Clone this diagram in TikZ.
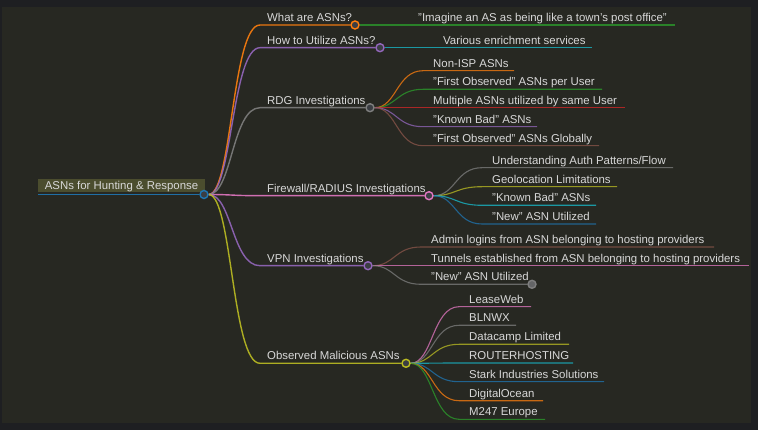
\documentclass[tikz,border=0pt]{standalone}
\usepackage{fontspec}
\setmainfont{Liberation Sans}
\usepackage{tikz}
\usetikzlibrary{calc,positioning}
\definecolor{bgout}{HTML}{1E1F22}
\definecolor{bgin}{HTML}{272822}
\definecolor{rootfill}{HTML}{4B4D2E}
\definecolor{txt}{HTML}{D8D8D8}
\definecolor{dotfill}{HTML}{3B3E43}
\definecolor{cblue}{HTML}{1F77B4}
\definecolor{corange}{HTML}{FF7F0E}
\definecolor{cgreen}{HTML}{2CA02C}
\definecolor{cred}{HTML}{D62728}
\definecolor{cpurple}{HTML}{9467BD}
\definecolor{cbrown}{HTML}{8C564B}
\definecolor{cpink}{HTML}{E377C2}
\definecolor{cgray}{HTML}{7F7F7F}
\definecolor{colive}{HTML}{BCBD22}
\definecolor{ccyan}{HTML}{17BECF}
\pgfdeclarelayer{bg}
\pgfdeclarelayer{links}
\pgfsetlayers{bg,links,main}
\tikzstyle{dot}=[circle, draw, line width=1.4pt, fill=dotfill, inner sep=0pt, minimum size=8pt]
\tikzstyle{lbl}=[anchor=base west, inner sep=0pt, text=txt, font=\fontsize{11.4}{13}\selectfont]
\tikzstyle{rootbox}=[rectangle, fill=rootfill, text=txt, font=\fontsize{11.4}{13}\selectfont, inner sep=0pt, minimum width=167pt, minimum height=13pt, text height=9pt, text depth=1pt]
\tikzstyle{link}=[to path={let \p1=(\tikztostart), \p2=(\tikztotarget) in .. controls ({(\x1+\x2)/2},\y1) and ({(\x1+\x2)/2},\y2) .. (\tikztotarget)}]
\tikzstyle{branch}=[line width=1.4pt, draw opacity=0.9]
\tikzstyle{leaf}=[line width=1.1pt, draw opacity=0.75]

\begin{document}
\begin{tikzpicture}[x=1pt,y=-1pt]
	\useasboundingbox (0,0) rectangle (758,430);
	% root
	\node[rootbox] (root) at (121.5,185.5) {ASNs for Hunting \& Response};
	\node[dot, draw=cblue] (rootdot) at (204,194.5) {};
	\coordinate (rootE) at (38,194.5);
	% first level
	\node[dot, draw=corange] (what) at (355,25) {};
	\coordinate (whatS) at (260,25);
	\node[lbl] (whatname) at (267,21.5) {What are ASNs?};
	\node[dot, draw=cpurple] (how) at (380,47.7) {};
	\coordinate (howS) at (260,47.7);
	\node[lbl] (howname) at (267,44.2) {How to Utilize ASNs?};
	\node[dot, draw=cgray] (rdg) at (370,107.7) {};
	\coordinate (rdgS) at (260,107.7);
	\node[lbl] (rdgname) at (267,104.2) {RDG Investigations};
	\node[dot, draw=cpink] (fw) at (429,195.7) {};
	\coordinate (fwS) at (260,195.7);
	\node[lbl] (fwname) at (267,192.2) {Firewall/RADIUS Investigations};
	\node[dot, draw=cpurple] (vpn) at (368,265.7) {};
	\coordinate (vpnS) at (260,265.7);
	\node[lbl] (vpnname) at (267,262.2) {VPN Investigations};
	\node[dot, draw=colive] (mal) at (406,363.3) {};
	\coordinate (malS) at (260,363.3);
	\node[lbl] (malname) at (267,359.8) {Observed Malicious ASNs};
	% what / how
	\coordinate (imagineE) at (675,25);
	\node[lbl] (imagine) at (418,21.5) {"Imagine an AS as being like a town's post office"};
	\coordinate (variousE) at (592,47.7);
	\node[lbl] (various) at (443,44.2) {Various enrichment services};
	% rdg
	\coordinate (r1S) at (423,70.7);   \coordinate (r1E) at (514,70.7);
	\coordinate (r2S) at (423,89.3);   \coordinate (r2E) at (602,89.3);
	\coordinate (r3S) at (423,107.7);  \coordinate (r3E) at (625,107.7);
	\coordinate (r4S) at (423,126.7);  \coordinate (r4E) at (537,126.7);
	\coordinate (r5S) at (423,145.7);  \coordinate (r5E) at (599,145.7);
	\node[lbl] (r1) at (433,67.2) {Non-ISP ASNs};
	\node[lbl] (r2) at (433,85.8) {"First Observed" ASNs per User};
	\node[lbl] (r3) at (433,104.2) {Multiple ASNs utilized by same User};
	\node[lbl] (r4) at (433,123.2) {"Known Bad" ASNs};
	\node[lbl] (r5) at (433,142.2) {"First Observed" ASNs Globally};
	% firewall
	\coordinate (f1S) at (482,167.7);  \coordinate (f1E) at (673,167.7);
	\coordinate (f2S) at (482,186.7);  \coordinate (f2E) at (617,186.7);
	\coordinate (f3S) at (482,205.3);  \coordinate (f3E) at (596,205.3);
	\coordinate (f4S) at (482,224);    \coordinate (f4E) at (596,224);
	\node[lbl] (f1) at (492,164.2) {Understanding Auth Patterns/Flow};
	\node[lbl] (f2) at (492,183.2) {Geolocation Limitations};
	\node[lbl] (f3) at (492,201.8) {"Known Bad" ASNs};
	\node[lbl] (f4) at (492,220.5) {"New" ASN Utilized};
	% vpn
	\coordinate (v1S) at (421,247);    \coordinate (v1E) at (714,247);
	\coordinate (v2S) at (421,265.7);  \coordinate (v2E) at (749,265.7);
	\coordinate (v3S) at (421,284.3);
	\node[dot, draw=cgray, fill=cgray!60!dotfill] (v3dot) at (532,284.3) {};
	\node[lbl] (v1) at (431,243.5) {Admin logins from ASN belonging to hosting providers};
	\node[lbl] (v2) at (431,262.2) {Tunnels established from ASN belonging to hosting providers};
	\node[lbl] (v3) at (431,280.8) {"New" ASN Utilized};
	% observed
	\coordinate (m1S) at (459,306.7);  \coordinate (m1E) at (531,306.7);
	\coordinate (m2S) at (459,325.3);  \coordinate (m2E) at (516,325.3);
	\coordinate (m3S) at (459,344.3);  \coordinate (m3E) at (569,344.3);
	\coordinate (m4S) at (459,363);    \coordinate (m4E) at (573,363);
	\coordinate (m5S) at (459,381.7);  \coordinate (m5E) at (604,381.7);
	\coordinate (m6S) at (459,400.7);  \coordinate (m6E) at (543,400.7);
	\coordinate (m7S) at (459,419.3);  \coordinate (m7E) at (545,419.3);
	\node[lbl] (m1) at (469,303.2) {LeaseWeb};
	\node[lbl] (m2) at (469,321.8) {BLNWX};
	\node[lbl] (m3) at (469,340.8) {Datacamp Limited};
	\node[lbl] (m4) at (469,359.5) {ROUTERHOSTING};
	\node[lbl] (m5) at (469,378.2) {Stark Industries Solutions};
	\node[lbl] (m6) at (469,397.2) {DigitalOcean};
	\node[lbl] (m7) at (469,415.8) {M247 Europe};
	\begin{pgfonlayer}{bg}
	\fill[bgout] (0,0) rectangle (758,430);
	\fill[bgin] (2,7) rectangle (751,423);
	\end{pgfonlayer}
	\begin{pgfonlayer}{links}
	\draw[branch, cblue] (rootE) -- (rootdot);
	\draw[branch, corange] (rootdot) to[link] (whatS) -- (what);
	\draw[branch, cpurple] (rootdot) to[link] (howS) -- (how);
	\draw[branch, cgray] (rootdot) to[link] (rdgS) -- (rdg);
	\draw[branch, cpink] (rootdot) to[link] (fwS) -- (fw);
	\draw[branch, cpurple] (rootdot) to[link] (vpnS) -- (vpn);
	\draw[branch, colive] (rootdot) to[link] (malS) -- (mal);
	\draw[leaf, cgreen] (what) -- (imagineE);
	\draw[leaf, ccyan] (how) -- (variousE);
	\draw[leaf, corange] (rdg) to[link] (r1S) -- (r1E);
	\draw[leaf, cgreen] (rdg) to[link] (r2S) -- (r2E);
	\draw[leaf, cred] (rdg) to[link] (r3S) -- (r3E);
	\draw[leaf, cpurple] (rdg) to[link] (r4S) -- (r4E);
	\draw[leaf, cbrown] (rdg) to[link] (r5S) -- (r5E);
	\draw[leaf, cgray] (fw) to[link] (f1S) -- (f1E);
	\draw[leaf, colive] (fw) to[link] (f2S) -- (f2E);
	\draw[leaf, ccyan] (fw) to[link] (f3S) -- (f3E);
	\draw[leaf, cblue] (fw) to[link] (f4S) -- (f4E);
	\draw[leaf, cbrown] (vpn) to[link] (v1S) -- (v1E);
	\draw[leaf, cpink] (vpn) to[link] (v2S) -- (v2E);
	\draw[leaf, cgray] (vpn) to[link] (v3S) -- (v3dot);
	\draw[leaf, cpink] (mal) to[link] (m1S) -- (m1E);
	\draw[leaf, cgray] (mal) to[link] (m2S) -- (m2E);
	\draw[leaf, colive] (mal) to[link] (m3S) -- (m3E);
	\draw[leaf, ccyan] (mal) to[link] (m4S) -- (m4E);
	\draw[leaf, cblue] (mal) to[link] (m5S) -- (m5E);
	\draw[leaf, corange] (mal) to[link] (m6S) -- (m6E);
	\draw[leaf, cgreen] (mal) to[link] (m7S) -- (m7E);
	\end{pgfonlayer}
\end{tikzpicture}
\end{document}
